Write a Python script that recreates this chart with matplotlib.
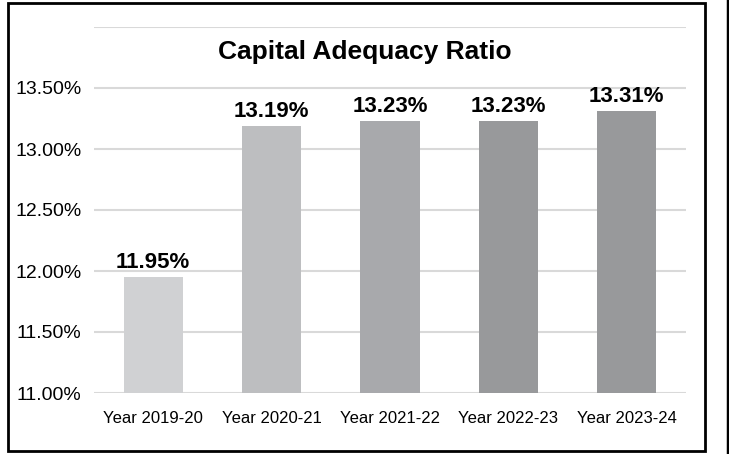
import matplotlib.pyplot as plt
from matplotlib.patches import Rectangle
from matplotlib.lines import Line2D

anos = ["Year 2019-20", "Year 2020-21", "Year 2021-22", "Year 2022-23", "Year 2023-24"]
car = [11.95, 13.19, 13.23, 13.23, 13.31]
cores = ["#d0d1d3", "#bdbec0", "#a8a9ac", "#98999b", "#98999b"]
ticks_y = [11.0, 11.5, 12.0, 12.5, 13.0, 13.5]

plt.rcParams['font.family'] = ['Liberation Sans', 'DejaVu Sans']

fig = plt.figure(figsize=(7.29, 4.54), dpi=100)
ax = fig.add_axes([94/729, 61/454, 592/729, 366/454])

x = range(len(anos))
barras = ax.bar(x, [v - 11.0 for v in car], bottom=11.0, width=0.5, color=cores, zorder=3)
for xi, v in zip(x, car):
    ax.annotate(f"{v:.2f}%", (xi, v), xytext=(0, 3), textcoords="offset points",
                ha="center", va="bottom", fontsize=16, fontweight="bold")

ax.set_xlim(-0.5, len(anos) - 0.5)
ax.set_ylim(11.0, 14.0)
ax.set_yticks(ticks_y + [14.0])
ax.set_yticklabels([f"{t:.2f}%" for t in ticks_y] + [""])
ax.set_xticks(list(x))
ax.set_xticklabels(anos)
ax.tick_params(axis="y", length=0, labelsize=14, pad=9)
ax.tick_params(axis="x", length=0, labelsize=12, pad=13)
ax.grid(axis="y", color="#d9d9d9", linewidth=1.5, zorder=0)
for s in ax.spines.values():
    s.set_visible(False)

fig.text(365/729, 1 - 52/454, "Capital Adequacy Ratio", ha="center", va="center",
         fontsize=19, fontweight="bold")

# moldura em volta do grafico
fig.patches.append(Rectangle((8/729, 3/454), 697/729, 448/454, transform=fig.transFigure,
                             fill=False, edgecolor="black", linewidth=2))
fig.lines.append(Line2D([727.5/729, 727.5/729], [0, 1], transform=fig.transFigure,
                        color="black", linewidth=2.5))

fig.savefig("out.png", dpi=100)
